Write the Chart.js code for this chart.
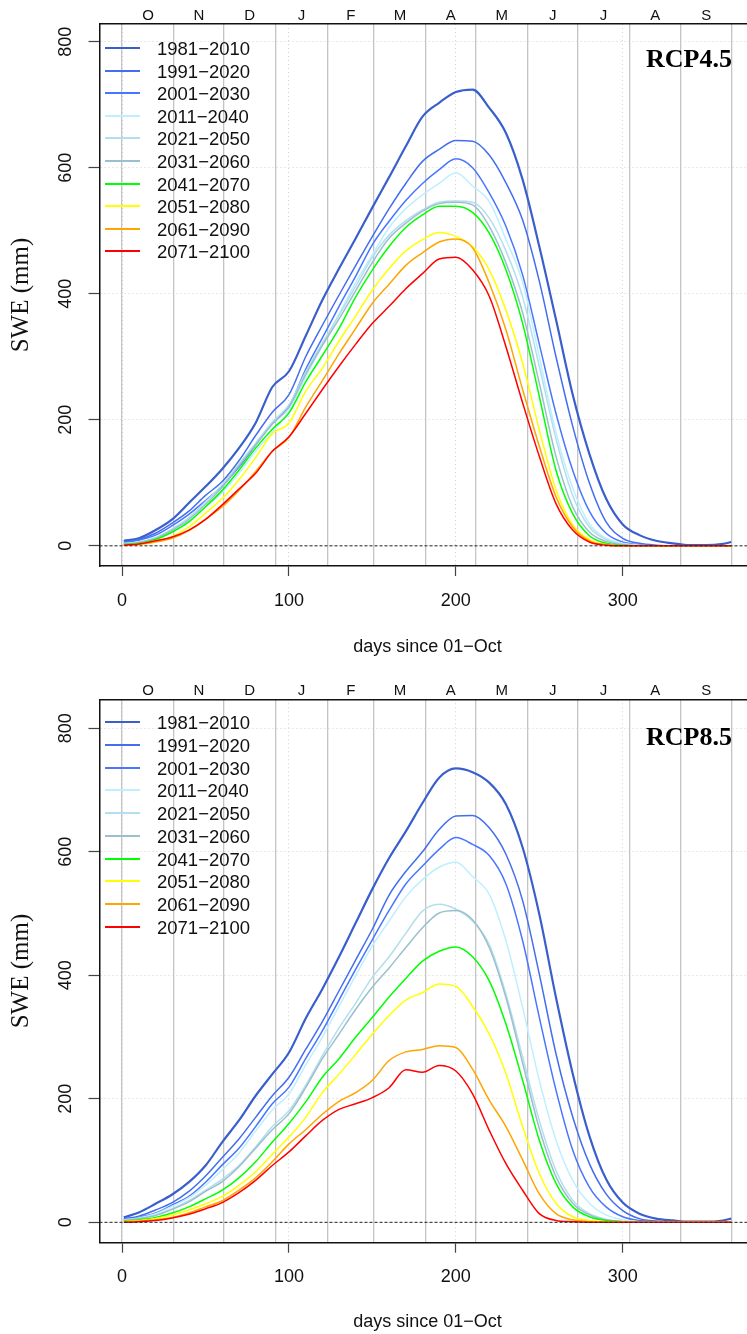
<!DOCTYPE html>
<html>
<head>
<meta charset="utf-8">
<script src="https://cdn.jsdelivr.net/npm/chart.js@4.4.1/dist/chart.umd.min.js"></script>
<style>
  body { margin: 0; width: 747px; height: 1334px; overflow: hidden; position: relative; background: #fff; }
  .panel { position: absolute; left: 0; width: 760px; height: 667px; }
  .legend { position: absolute; left: 0; font-family: "Liberation Sans", Arial, sans-serif; font-size: 18.5px; color: #111; }
  .row { position: absolute; left: 0; width: 300px; }
  .row .ln { position: absolute; left: 105px; width: 35px; height: 2px; }
  .row .tx { position: absolute; left: 157px; white-space: nowrap; }
  .rcp { position: absolute; left: 560px; width: 172px; text-align: right; font-family: "Liberation Serif", "Times New Roman", serif; font-weight: bold; font-size: 26px; line-height: 30px; color: #000; }
</style>
</head>
<body>
<div class="panel" style="top:0"><canvas id="c45" width="760" height="667"></canvas></div>
<div class="panel" style="top:667px"><canvas id="c85" width="760" height="667"></canvas></div>
<div class="legend" id="leg45" style="top:0"></div>
<div class="legend" id="leg85" style="top:667px"></div>
<div class="rcp" style="top:44px">RCP4.5</div>
<div class="rcp" style="top:722px">RCP8.5</div>
<script>
// day of water year (since 01-Oct)
const days = [1,10,20,30,40,50,60,70,80,90,100,110,120,130,140,150,160,170,180,190,200,210,220,230,240,250,260,270,280,290,300,310,320,330,340,350,360,365];

const periods = ['1981−2010','1991−2020','2001−2030','2011−2040','2021−2050','2031−2060','2041−2070','2051−2080','2061−2090','2071−2100'];
const colors = ['#3A5FCD','#436EEE','#4876FF','#BFEFFF','#B2DFEE','#9AC0CD','#00FF00','#FFFF00','#FFA500','#FF0000'];

const monthStarts = [0,31,61,92,123,151,182,212,243,273,304,335,365];
const monthLetters = ['O','N','D','J','F','M','A','M','J','J','A','S'];
const dayTicks = [0,100,200,300];
const sweTicks = [0,200,400,600,800];

// RCP4.5, SWE (mm)
const rcp45_1981 = [8,12,25,42,68,94,122,155,195,252,277,333,390,440,488,537,585,634,681,703,720,724,695,655,581,475,359,240,146,75,34,17,8,4,1,1,3,6];
const rcp45_1991 = [6,10,20,36,55,80,102,135,175,212,240,300,350,398,445,491,535,575,610,629,643,642,620,576,517,420,300,190,100,38,12,4,1,0,0,0,0,0];
const rcp45_2001 = [5,9,17,32,50,72,95,125,160,195,221,280,330,380,428,478,515,548,575,597,614,600,560,507,430,320,210,120,55,20,6,2,0,0,0,0,0,0];
const rcp45_2011 = [4,6,13,25,40,62,85,115,150,180,215,268,318,368,418,462,505,535,557,575,592,571,546,486,418,300,180,92,35,12,4,1,0,0,0,0,0,0];
const rcp45_2021 = [3,6,13,27,45,70,97,130,163,196,224,276,322,366,412,458,493,516,533,545,547,545,520,468,395,285,170,80,30,10,3,0,0,0,0,0,0,0];
const rcp45_2031 = [3,5,12,25,42,66,93,127,160,193,220,272,318,360,405,450,488,512,531,543,545,541,507,449,370,258,142,62,22,7,2,0,0,0,0,0,0,0];
const rcp45_2041 = [2,4,10,22,38,62,88,120,155,185,211,260,302,345,395,438,475,505,525,539,539,529,496,438,353,237,120,51,16,4,1,0,0,0,0,0,0,0];
const rcp45_2051 = [1,3,8,15,30,52,75,105,140,178,195,245,282,325,365,406,440,468,486,497,491,475,438,374,290,184,89,33,10,2,0,0,0,0,0,0,0,0];
const rcp45_2061 = [1,2,6,12,24,42,62,88,118,150,172,220,262,305,345,385,415,445,465,482,487,473,417,343,248,158,78,30,8,2,0,0,0,0,0,0,0,0];
const rcp45_2071 = [1,3,8,14,25,42,65,90,115,150,173,210,248,285,320,353,380,408,432,455,458,438,396,316,227,142,67,25,6,1,0,0,0,0,0,0,0,0];

// RCP8.5, SWE (mm)
const rcp85_1981 = [8,16,30,45,65,92,130,165,205,240,275,330,378,430,485,540,590,633,679,720,735,729,712,677,607,499,364,241,140,70,32,14,6,3,1,1,3,6];
const rcp85_1991 = [6,10,20,32,50,75,105,135,170,205,235,280,325,375,425,475,530,568,600,636,658,659,639,596,521,402,273,171,95,46,19,6,2,1,0,0,0,0];
const rcp85_2001 = [5,8,15,28,42,65,93,120,155,192,219,265,310,360,410,458,505,548,577,604,623,612,594,548,456,332,214,117,57,25,9,3,1,0,0,0,0,0];
const rcp85_2011 = [4,7,14,26,40,60,85,112,148,182,208,255,300,350,400,448,488,527,555,575,583,560,531,456,348,230,133,68,31,12,4,1,0,0,0,0,0,0];
const rcp85_2021 = [3,6,12,22,35,52,70,92,122,155,181,222,270,315,355,397,430,468,504,515,507,488,450,370,268,165,84,36,14,5,1,0,0,0,0,0,0,0];
const rcp85_2031 = [3,6,11,21,33,50,66,90,120,150,176,218,265,305,345,381,412,445,477,501,505,490,445,364,258,152,74,31,12,4,1,0,0,0,0,0,0,0];
const rcp85_2041 = [2,4,8,15,25,38,52,72,98,130,160,195,235,265,300,332,365,395,423,439,446,430,391,321,230,133,63,25,9,3,1,0,0,0,0,0,0,0];
const rcp85_2051 = [1,3,6,12,20,30,42,60,82,110,138,170,210,240,272,305,335,360,372,386,382,350,305,241,155,79,31,9,3,1,0,0,0,0,0,0,0,0];
const rcp85_2061 = [1,2,4,8,15,25,35,52,72,98,127,150,175,196,210,230,262,276,280,286,283,248,198,155,101,46,14,4,1,0,0,0,0,0,0,0,0,0];
const rcp85_2071 = [0,1,3,7,13,22,32,48,68,92,114,140,165,183,192,202,218,247,243,254,245,208,149,95,52,14,3,1,0,0,0,0,0,0,0,0,0,0];

const rcp45 = [rcp45_1981,rcp45_1991,rcp45_2001,rcp45_2011,rcp45_2021,rcp45_2031,rcp45_2041,rcp45_2051,rcp45_2061,rcp45_2071];
const rcp85 = [rcp85_1981,rcp85_1991,rcp85_2001,rcp85_2011,rcp85_2021,rcp85_2031,rcp85_2041,rcp85_2051,rcp85_2061,rcp85_2071];

const SANS = '"Liberation Sans", Arial, sans-serif';
const SERIF = '"Liberation Serif", "Times New Roman", serif';
const X_MIN = -13.56, X_MAX = 379.56;

// dashed line at SWE = 0, like abline(h=0, lty=2)
const zeroLine = {
  id: 'zeroLine',
  afterDatasetsDraw(chart) {
    const {ctx, chartArea, scales} = chart;
    const y = scales.y.getPixelForValue(0);
    ctx.save();
    ctx.strokeStyle = '#222';
    ctx.lineWidth = 1;
    ctx.setLineDash([3, 2]);
    ctx.beginPath();
    ctx.moveTo(chartArea.left, y);
    ctx.lineTo(chartArea.right, y);
    ctx.stroke();
    ctx.restore();
  }
};

function makePanel(id, series, cfg) {
  const mids = monthLetters.map((m, i) => (monthStarts[i] + monthStarts[i + 1]) / 2);
  return new Chart(document.getElementById(id), {
    type: 'line',
    data: {
      datasets: series.map((vals, i) => ({
        label: periods[i],
        data: days.map((d, k) => ({x: d, y: vals[k]})),
        borderColor: colors[i],
        borderWidth: i === 0 ? 2.2 : 1.5,
        pointRadius: 0,
        fill: false,
        cubicInterpolationMode: 'monotone',
        order: -i
      }))
    },
    options: {
      responsive: false,
      animation: false,
      devicePixelRatio: 1,
      layout: {padding: {left: 0, right: 4.5, top: 0, bottom: 0}},
      plugins: {legend: {display: false}, tooltip: {enabled: false}},
      scales: {
        x: {
          type: 'linear', position: 'bottom', min: X_MIN, max: X_MAX,
          afterBuildTicks: s => { s.ticks = dayTicks.map(v => ({value: v})); },
          afterFit: s => { s.height = cfg.bottomH; },
          grid: {color: '#d3d3d3', lineWidth: 1, tickLength: 10, tickColor: '#444', tickWidth: 1.2},
          border: {display: true, color: '#111', width: 1.5, dash: [1, 3]},
          ticks: {font: {family: SANS, size: 18}, color: '#111', padding: 14, maxRotation: 0, autoSkip: false},
          title: {display: true, text: 'days since 01−Oct', color: '#111',
                  font: {family: SANS, size: 18}, padding: {top: 0, bottom: cfg.titlePad}}
        },
        months: {
          type: 'linear', position: 'top', weight: 0, min: X_MIN, max: X_MAX,
          afterBuildTicks: s => { s.ticks = monthStarts.map(v => ({value: v})); },
          afterFit: s => { s.height = 0; },
          grid: {color: '#c4c4c4', lineWidth: 1.3, drawTicks: false},
          border: {display: false},
          ticks: {display: false}
        },
        letters: {
          type: 'linear', position: 'top', weight: 1, min: X_MIN, max: X_MAX,
          afterBuildTicks: s => { s.ticks = mids.map(v => ({value: v})); },
          afterFit: s => { s.height = cfg.topH; },
          grid: {display: false, drawTicks: false},
          border: {display: true, color: '#111', width: 1.5},
          ticks: {callback: (v, i) => monthLetters[i], font: {family: SANS, size: 15}, color: '#111',
                  padding: -1, maxRotation: 0, autoSkip: false}
        },
        y: {
          type: 'linear', min: cfg.yMin, max: cfg.yMax,
          afterBuildTicks: s => { s.ticks = sweTicks.map(v => ({value: v})); },
          afterFit: s => { s.width = 99.5; },
          grid: {color: '#d3d3d3', lineWidth: 1, tickLength: 11, tickColor: '#444', tickWidth: 1.2},
          border: {display: true, color: '#111', width: 1.5, dash: [1, 3]},
          ticks: {font: {family: SANS, size: 18}, color: '#111', minRotation: 90, maxRotation: 90,
                  crossAlign: 'center', padding: 7, autoSkip: false},
          title: {display: true, text: 'SWE (mm)', color: '#111',
                  font: {family: SERIF, size: 25}, padding: {top: 6, bottom: 0}}
        }
      }
    },
    plugins: [zeroLine]
  });
}

function makeLegend(id, firstRow, step) {
  const box = document.getElementById(id);
  periods.forEach((p, i) => {
    const row = document.createElement('div');
    row.className = 'row';
    const top = Math.round(firstRow + i * step - step / 2);
    row.style.top = top + 'px';
    row.style.height = Math.round(step) + 'px';
    row.style.lineHeight = Math.round(step) + 'px';
    row.innerHTML = '<div class="ln" style="top:' + Math.round(step / 2 - 1) + 'px;background:' + colors[i] +
      '"></div><div class="tx">' + p + '</div>';
    box.appendChild(row);
  });
}

makePanel('c45', rcp45, {yMin: -32, yMax: 828, topH: 24, bottomH: 101, titlePad: 9.5});
makePanel('c85', rcp85, {yMin: -33, yMax: 847, topH: 32.3, bottomH: 91.3, titlePad: 1.5});
makeLegend('leg45', 48.3, 22.6);
makeLegend('leg85', 55.3, 22.8);
</script>
</body>
</html>
